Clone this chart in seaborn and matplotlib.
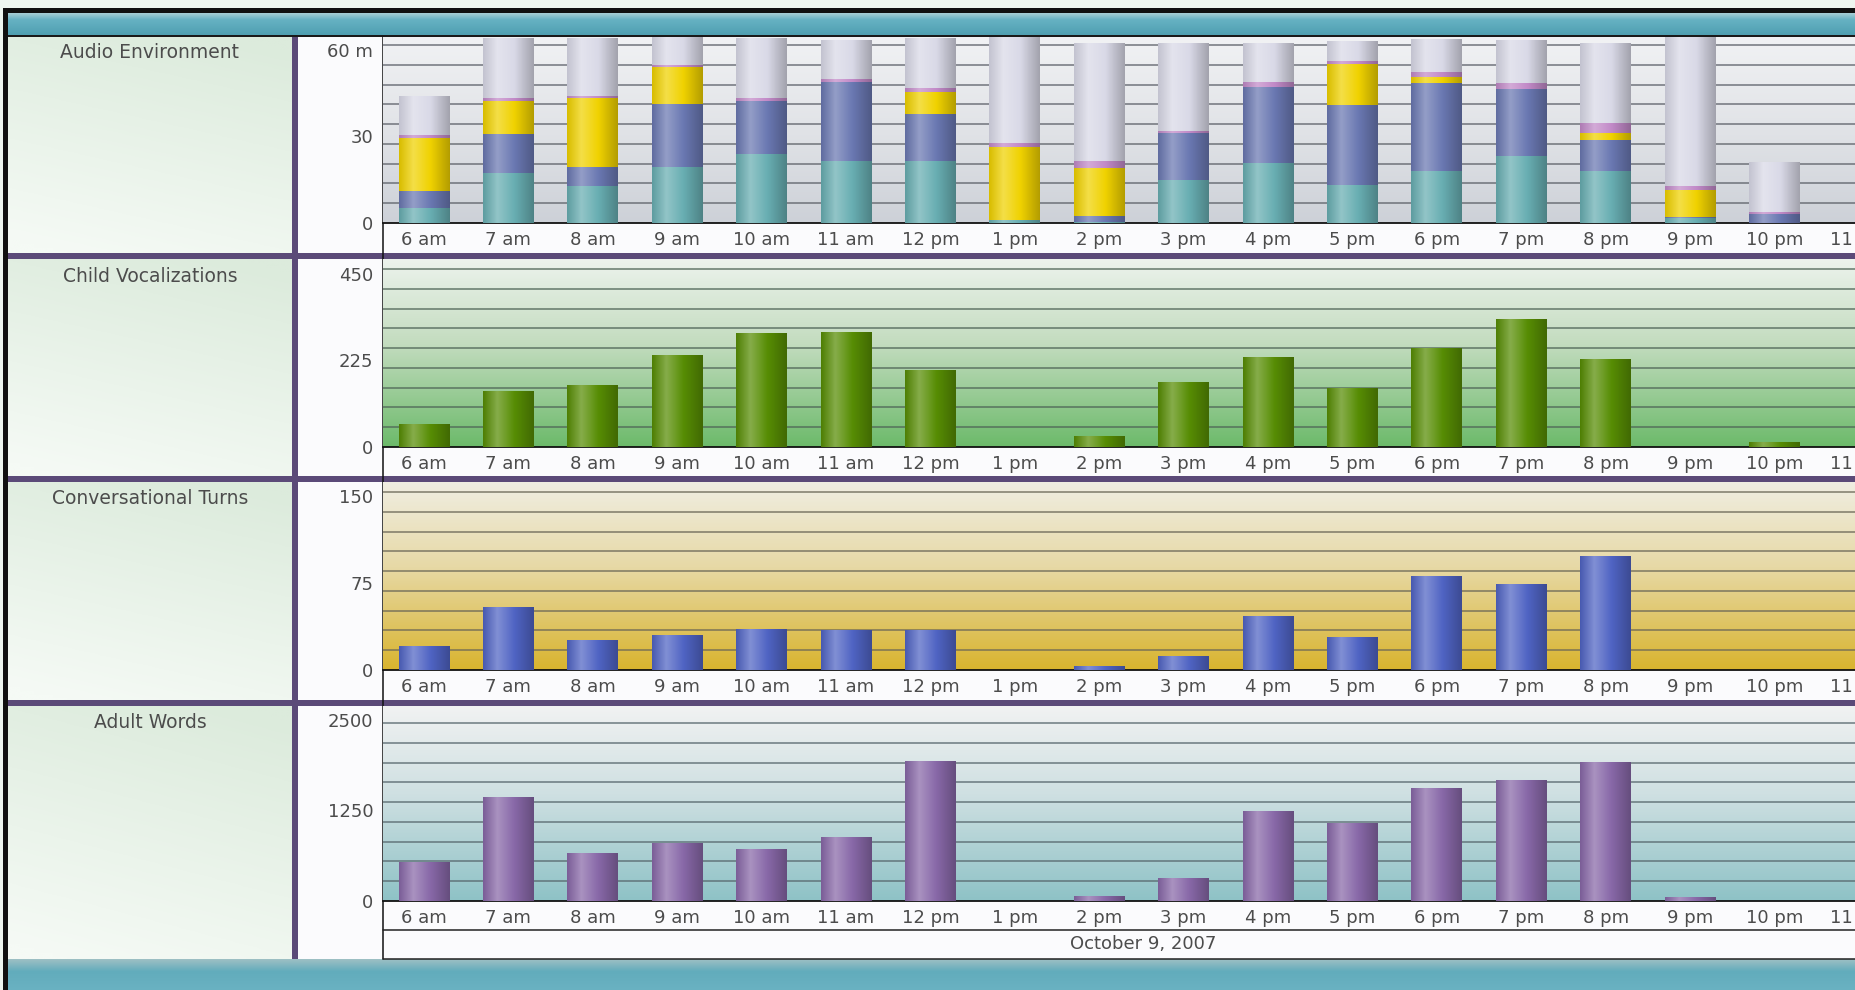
import numpy as np
import pandas as pd
import matplotlib
matplotlib.use("Agg")
import matplotlib.pyplot as plt
import seaborn as sns
from matplotlib.colors import LinearSegmentedColormap, to_rgb
from matplotlib.patches import Rectangle

sns.set_style("white")
plt.rcParams['font.family'] = ['DejaVu Sans']

# ---------------- data ----------------
hours = ["6 am", "7 am", "8 am", "9 am", "10 am", "11 am", "12 pm", "1 pm", "2 pm",
         "3 pm", "4 pm", "5 pm", "6 pm", "7 pm", "8 pm", "9 pm", "10 pm", "11 pm"]

# Audio environment (minutes), stacked bottom -> top
meaningful = [5.2, 17.3, 12.8, 19.4, 23.9, 21.5, 21.5, 1.0, 0.4, 14.9, 20.8, 13.2, 18.0, 23.2, 18.0, 1.7, 0, 0]
distant    = [5.9, 13.5, 6.6, 21.8, 18.4, 27.4, 16.3, 0, 2.1, 16.3, 26.4, 27.7, 30.5, 23.2, 10.7, 0.3, 3.1, 0]
tv         = [18.4, 11.4, 23.9, 12.8, 0, 0, 7.6, 25.3, 16.6, 0, 0, 14.2, 2.1, 0, 2.4, 9.4, 0, 0]
noise      = [1.0, 1.0, 0.7, 0.7, 1.0, 1.0, 1.4, 1.4, 2.4, 0.7, 1.7, 1.0, 1.7, 2.1, 3.5, 1.4, 0.7, 0]
silence    = [13.5, 20.5, 19.8, 9.7, 20.5, 13.2, 17.0, 36.8, 40.9, 30.5, 13.5, 6.9, 11.4, 14.6, 27.7, 51.6, 17.0, 0]

child_vocalizations  = [59, 145, 159, 237, 295, 298, 200, 0, 28, 169, 234, 151, 256, 331, 228, 0, 12, 0]
conversational_turns = [20, 54, 25, 30, 35, 34, 34, 0, 3, 12, 46, 28, 81, 74, 98, 0, 0, 0]
adult_words          = [525, 1425, 660, 790, 715, 880, 1920, 0, 60, 305, 1230, 1075, 1555, 1665, 1915, 55, 0, 0]

panel_titles = ["Audio Environment", "Child Vocalizations", "Conversational Turns", "Adult Words"]
y_ticks = [[0, 30, 60], [0, 225, 450], [0, 75, 150], [0, 1250, 2500]]
y_ticklabels = [["0", "30", "60 m"], ["0", "225", "450"], ["0", "75", "150"], ["0", "1250", "2500"]]
date_label = "October 9, 2007"

# ---------------- helpers ----------------
W, H = 1856, 990
fig = plt.figure(figsize=(W / 100, H / 100), dpi=100)

def blend(c, other, t):
    c = np.array(to_rgb(c)); o = np.array(to_rgb(other))
    return tuple(c * (1 - t) + o * t)

def grad_cmap(stops):
    return LinearSegmentedColormap.from_list("g", stops)

def vgrad_img(stops, n=256):
    return grad_cmap(stops)(np.linspace(0, 1, n))[:, None, :]

def hgrad_img(stops, n=64):
    return grad_cmap(stops)(np.linspace(0, 1, n))[None, :, :]

bg = fig.add_axes([0, 0, 1, 1], zorder=-10)
bg.axis("off")

def rect(x0, y0, x1, y1, color, z=1):
    bg.add_patch(Rectangle((x0, y0), x1 - x0, y1 - y0, facecolor=color, edgecolor="none", zorder=z))

def vgrad_rect(x0, y0, x1, y1, stops, z=1):
    bg.imshow(vgrad_img(stops), extent=(x0, x1, y1, y0), aspect="auto", zorder=z,
              interpolation="bilinear")

# page + frame
rect(0, 0, W, H, "#eef6f0", 0)
rect(3, 8, W, H, "#111111", 0.5)
vgrad_rect(8, 13, W, 35, [(0, "#a9cfd6"), (0.3, "#66b2c3"), (1, "#4f9fb1")], 2)
rect(8, 35, W, 37, "#1a1a1a", 2)
rect(8, 37, W, 959, "#fbfbfd", 1.5)
vgrad_rect(8, 959, W, H, [(0, "#9fc0c4"), (0.4, "#62acbc"), (1, "#6ab2c2")], 2)

# left label cells (soft gradient)
cell_rows = [(37, 253), (259, 476), (482, 700), (706, 959)]
cmap_cell = grad_cmap([(0, "#f5faf5"), (1, "#dcebdc")])
for (y0, y1) in cell_rows:
    yy, xx = np.mgrid[0:1:60j, 0:1:60j]
    t = np.clip(0.85 * (1 - yy) + 0.25 * xx - 0.05, 0, 1)
    bg.imshow(cmap_cell(t), extent=(8, 292, y1, y0), aspect="auto", zorder=2, interpolation="bilinear")

# dividers
purple = "#5b4a78"
rect(292, 37, 298, 959, purple, 3)
for (y0, y1) in [(253, 259), (476, 482), (700, 706)]:
    rect(8, y0, W, y1, purple, 3)
bg.plot([383, 383], [37, 959], color="#111111", lw=1.1, zorder=4)
bg.plot([383, W], [930, 930], color="#222222", lw=1.1, zorder=4)
bg.plot([383, W], [959, 959], color="#222222", lw=1.1, zorder=4)

text_color = "#4c4c4c"
title_y = [52, 276, 498, 722]
for t, ty in zip(panel_titles, title_y):
    bg.text(150, ty, t, ha="center", va="center", fontsize=13.5, color=text_color, zorder=5)
bg.text(1143, 944, date_label, ha="center", va="center", fontsize=13, color=text_color, zorder=5)
bg.set_xlim(0, W); bg.set_ylim(H, 0)

# ---------------- chart panels ----------------
panels = [
    dict(top=37, base=223, ymax=64.5,
         bg=[(0, "#f1f2f4"), (0.5, "#e1e3e7"), (1, "#cdd1d8")], grid="#5c6068"),
    dict(top=259, base=447, ymax=489,
         bg=[(0, "#edf3ed"), (0.45, "#c3dcbf"), (1, "#6cba6a")], grid="#4e6456"),
    dict(top=482, base=670, ymax=162,
         bg=[(0, "#f0eee2"), (0.45, "#e7d9a6"), (1, "#d9b42e")], grid="#6a6656"),
    dict(top=706, base=901, ymax=2693,
         bg=[(0, "#f1f2f2"), (0.45, "#cfe0e2"), (1, "#8ec2c6")], grid="#56666c"),
]

x_left_px, x0_px, step_px = 383, 424, 84.4
xlim = ((x_left_px - x0_px) / step_px, 17.6)
ax_w = (x0_px + xlim[1] * step_px - x_left_px) / W

def cylinder(ax, patches, base, z=3.5):
    stops = [(0, blend(base, "black", 0.10)), (0.28, blend(base, "white", 0.28)),
             (0.62, base), (1, blend(base, "black", 0.25))]
    img = hgrad_img(stops)
    for p in patches:
        h = p.get_height()
        if h <= 0:
            continue
        x, y, w = p.get_x(), p.get_y(), p.get_width()
        ax.imshow(img, extent=(x, x + w, y, y + h), aspect="auto", zorder=z, interpolation="bilinear")

axes = []
for i, pdef in enumerate(panels):
    hpx = pdef["base"] - pdef["top"]
    ax = fig.add_axes([x_left_px / W, (H - pdef["base"]) / H, ax_w, hpx / H])
    ax.patch.set_alpha(0)
    ax.imshow(vgrad_img(pdef["bg"]), extent=(0, 1, 0, 1), transform=ax.transAxes,
              aspect="auto", zorder=0, interpolation="bilinear")
    for k in range(1, 10):
        yf = k * 19.78 / hpx
        ax.plot([0, 1], [yf, yf], transform=ax.transAxes, color=pdef["grid"], lw=1.1,
                alpha=0.85, zorder=1)
    axes.append(ax)

# Panel 1: stacked audio environment
ax = axes[0]
audio_layers = [(meaningful, "#68aeb2"), (distant, "#6a78b2"), (tv, "#f0d200"),
                (noise, "#c28ac8"), (silence, "#d9d9e7")]
bottom = np.zeros(len(hours))
for vals, col in audio_layers:
    n0 = len(ax.patches)
    df = pd.DataFrame({"hour": hours, "value": vals})
    sns.barplot(data=df, x="hour", y="value", order=hours, color=col, saturation=1,
                width=0.6, errorbar=None, ax=ax, bottom=bottom, zorder=3, linewidth=0)
    cylinder(ax, ax.patches[n0:], col)
    bottom = bottom + np.array(vals)

# Panels 2-4
for ax, vals, col in [(axes[1], child_vocalizations, "#578d04"),
                      (axes[2], conversational_turns, "#5064c4"),
                      (axes[3], adult_words, "#8868a8")]:
    n0 = len(ax.patches)
    df = pd.DataFrame({"hour": hours, "value": vals})
    sns.barplot(data=df, x="hour", y="value", order=hours, color=col, saturation=1,
                width=0.6, errorbar=None, ax=ax, zorder=3, linewidth=0)
    cylinder(ax, ax.patches[n0:], col)

for i, (ax, pdef) in enumerate(zip(axes, panels)):
    ax.set_xlim(*xlim)
    ax.set_ylim(0, pdef["ymax"])
    ax.set_xticks(range(len(hours)))
    ax.set_xticklabels(hours)
    ax.set_yticks(y_ticks[i])
    ax.set_yticklabels(y_ticklabels[i])
    ax.set_xlabel(""); ax.set_ylabel("")
    ax.tick_params(axis="x", length=0, pad=6, labelsize=13, labelcolor=text_color)
    ax.tick_params(axis="y", length=0, pad=7, labelsize=13, labelcolor=text_color)
    for s in ["top", "right", "left"]:
        ax.spines[s].set_visible(False)
    ax.spines["bottom"].set_color("#111111")
    ax.spines["bottom"].set_linewidth(1.3)
    ax.grid(False)

fig.savefig("out.png", dpi=100)
